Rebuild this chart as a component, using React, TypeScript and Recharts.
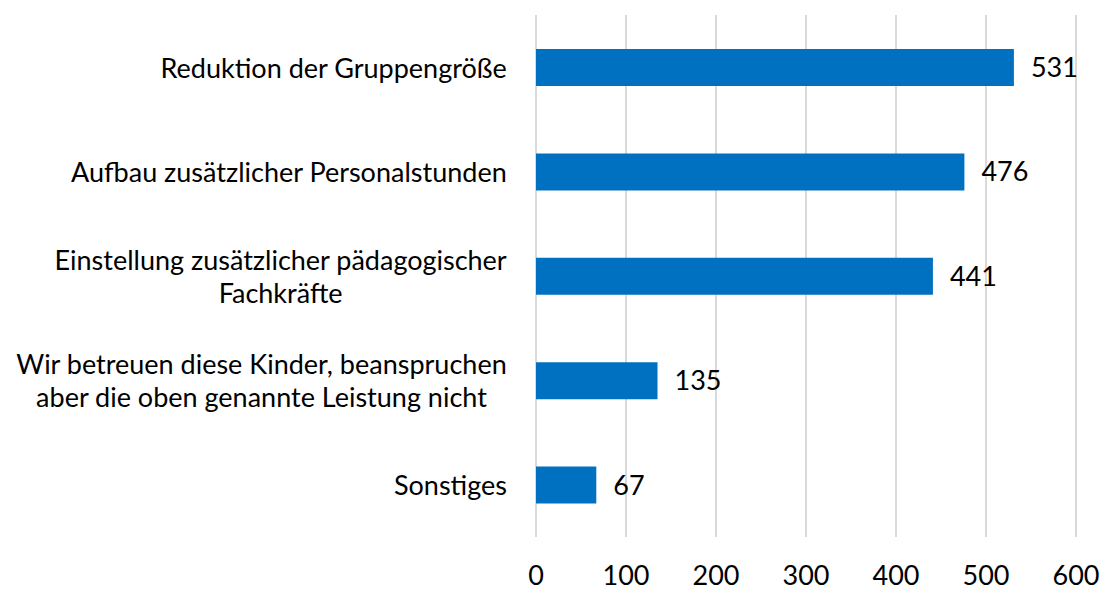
import { Bar, BarChart, CartesianGrid, LabelList, XAxis, YAxis } from "recharts";

const categories = [
  "Reduktion der Gruppengröße",
  "Aufbau zusätzlicher Personalstunden",
  "Einstellung zusätzlicher pädagogischer\nFachkräfte",
  "Wir betreuen diese Kinder, beanspruchen\naber die oben genannte Leistung nicht",
  "Sonstiges",
];
const counts = [531, 476, 441, 135, 67];
const xTicks = [0, 100, 200, 300, 400, 500, 600];

const data = categories.map((name, i) => ({ name, value: counts[i] }));

const FONT = "Lato, 'Open Sans', sans-serif";
const FONT_SIZE = 27;

let ctx: CanvasRenderingContext2D | null = null;
function textWidth(s: string) {
  if (!ctx) ctx = document.createElement("canvas").getContext("2d");
  if (!ctx) return s.length * 12;
  ctx.font = `${FONT_SIZE}px Lato`;
  return ctx.measureText(s).width;
}

function CategoryTick({ y, payload }: any) {
  const lines = String(payload.value).split("\n");
  const right = 507;
  const w = Math.max(...lines.map(textWidth));
  const cx = right - w / 2;
  return (
    <g>
      {lines.map((line, i) => (
        <text
          key={i}
          x={cx}
          y={y + (i - (lines.length - 1) / 2) * 33}
          textAnchor="middle"
          dominantBaseline="central"
          fontFamily={FONT}
          fontSize={FONT_SIZE}
          fill="#000"
        >
          {line}
        </text>
      ))}
    </g>
  );
}

function ValueTick({ x, payload }: any) {
  return (
    <text x={x} y={574} textAnchor="middle" dominantBaseline="central" fontFamily={FONT} fontSize={FONT_SIZE} fill="#000">
      {payload.value}
    </text>
  );
}

export default function App() {
  return (
    <div style={{ position: "absolute", left: 0, top: 0, background: "#fff" }}>
      <BarChart
        width={1103}
        height={590}
        data={data}
        layout="vertical"
        margin={{ top: 15, right: 27, bottom: 0, left: 0 }}
      >
        <CartesianGrid horizontal={false} stroke="#d9d9d9" strokeWidth={2} />
        <XAxis
          type="number"
          domain={[0, 600]}
          ticks={xTicks}
          axisLine={false}
          tickLine={false}
          height={53}
          tick={<ValueTick />}
          interval={0}
        />
        <YAxis
          type="category"
          dataKey="name"
          width={536}
          axisLine={false}
          tickLine={false}
          tick={<CategoryTick />}
          interval={0}
        />
        <Bar dataKey="value" fill="#0070c0" barSize={37} isAnimationActive={false}>
          <LabelList
            dataKey="value"
            position="right"
            offset={17}
            fill="#000"
            fontFamily={FONT}
            fontSize={FONT_SIZE}
          />
        </Bar>
      </BarChart>
    </div>
  );
}
